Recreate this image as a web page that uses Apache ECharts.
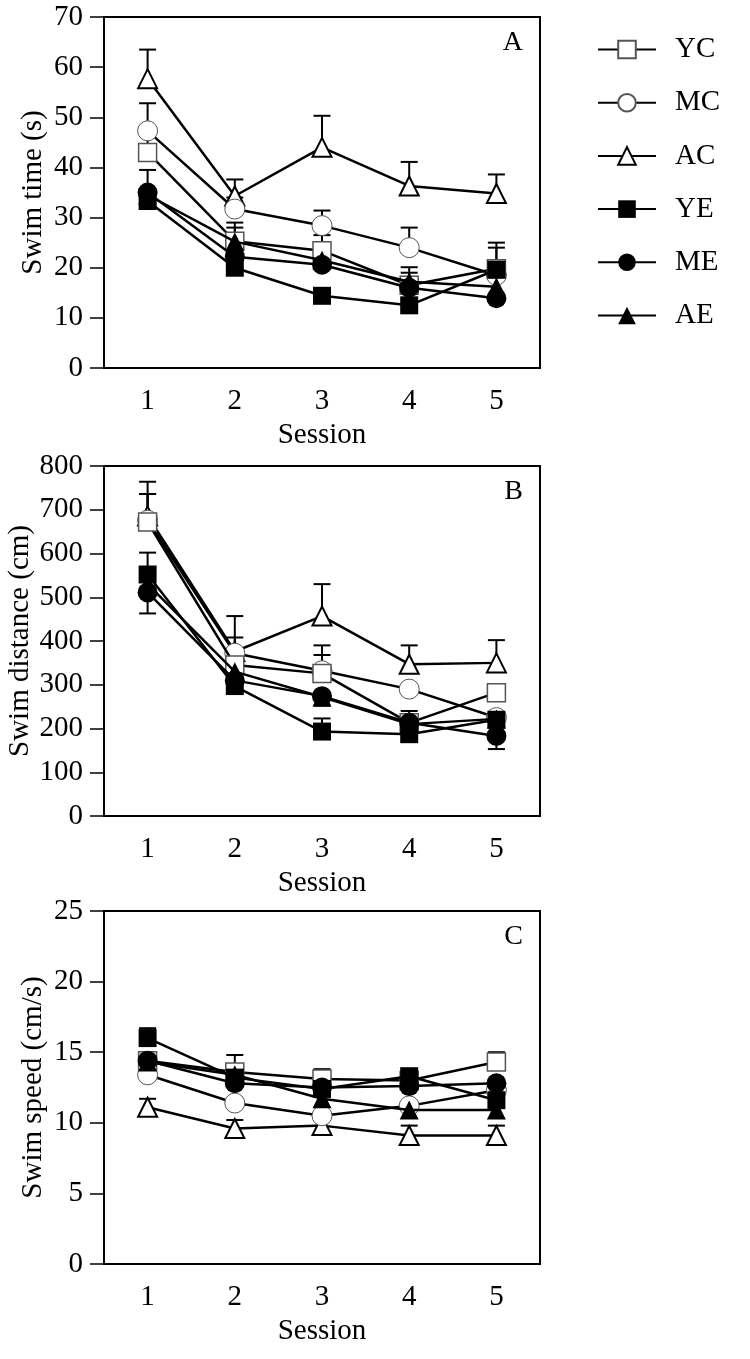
<!DOCTYPE html>
<html>
<head>
<meta charset="utf-8">
<script src="https://cdn.jsdelivr.net/npm/echarts@6/dist/echarts.min.js"></script>
<style>
html,body{margin:0;padding:0;background:#fff;}
#chart{width:750px;height:1359px;}
</style>
</head>
<body>
<div id="chart"></div>
<script>
// ---------- data ----------
const sessions = ['1', '2', '3', '4', '5'];
const groups = ['YC', 'MC', 'AC', 'YE', 'ME', 'AE'];

// Panel A: swim time (s); rows follow `groups`
const timeMean = [
  [43.0, 25.3, 23.4, 16.5, 19.8],
  [47.3, 31.7, 28.4, 24.0, 18.5],
  [57.7, 34.3, 44.0, 36.3, 34.8],
  [33.3, 20.0, 14.4, 12.5, 19.6],
  [35.0, 22.2, 20.6, 16.0, 13.9],
  [34.5, 25.2, 21.5, 17.2, 16.2]
];
const timeErrHi = [
  [46.3, 29.0, 26.5, 20.1, 25.0],
  [52.8, 34.0, 31.4, 28.0, 24.0],
  [63.5, 37.6, 50.3, 41.1, 38.6],
  [null, null, 15.8, null, 21.0],
  [39.5, null, null, null, null],
  [null, 28.0, 24.0, 19.0, null]
];
const timeErrLo = [
  [null, null, null, null, null],
  [null, null, null, null, null],
  [null, null, null, null, null],
  [null, null, null, null, null],
  [null, null, null, null, null],
  [null, null, null, null, null]
];

// Panel B: swim distance (cm)
const distMean = [
  [672, 345, 326, 213, 282],
  [676, 372, 332, 290, 225],
  [686, 376, 457, 347, 350],
  [552, 297, 193, 187, 220],
  [511, 310, 274, 213, 183],
  [530, 330, 272, 210, 222]
];
const distErrHi = [
  [736, 408, 390, null, null],
  [736, null, 368, null, null],
  [764, 457, 530, 390, 402],
  [602, null, 223, null, null],
  [null, null, null, 240, 210],
  [null, null, null, null, null]
];
const distErrLo = [
  [null, null, null, null, null],
  [null, null, null, null, null],
  [null, null, null, null, null],
  [null, null, null, null, null],
  [463, null, 252, null, 153],
  [null, null, null, null, null]
];

// Panel C: swim speed (cm/s)
const speedMean = [
  [14.4, 13.6, 13.1, 13.0, 14.3],
  [13.4, 11.4, 10.5, 11.2, 12.3],
  [11.1, 9.6, 9.8, 9.1, 9.1],
  [16.0, 13.2, 12.4, 13.3, 11.6],
  [14.4, 12.8, 12.5, 12.6, 12.8],
  [14.3, 13.4, 11.7, 10.9, 10.9]
];
const speedErrHi = [
  [null, 14.8, 13.8, null, 15.0],
  [null, null, null, null, null],
  [11.7, 10.2, 10.2, 9.8, 9.8],
  [16.7, null, null, null, null],
  [null, null, null, null, null],
  [null, null, null, null, null]
];
const speedErrLo = [
  [null, null, null, null, null],
  [null, null, null, null, null],
  [null, null, null, null, null],
  [null, null, null, null, null],
  [null, null, null, null, null],
  [null, null, null, null, null]
];

const yTicksTime = [0, 70, 10];
const yTicksDist = [0, 800, 100];
const yTicksSpeed = [0, 25, 5];

// ---------- styling ----------
const FONT = "'Liberation Serif', 'Times New Roman', serif";
const FS = 29;
const markerStyle = {
  YC: { symbol: 'rect', size: 18, item: { color: '#fff', borderColor: '#555', borderWidth: 1.5 } },
  MC: { symbol: 'circle', size: 20, item: { color: '#fff', borderColor: '#555', borderWidth: 1 } },
  AC: { symbol: 'triangle', size: 19, item: { color: '#fff', borderColor: '#000', borderWidth: 2 } },
  YE: { symbol: 'rect', size: 18, item: { color: '#000', borderColor: '#000', borderWidth: 0 } },
  ME: { symbol: 'circle', size: 20, item: { color: '#000', borderColor: '#000', borderWidth: 0 } },
  AE: { symbol: 'triangle', size: 19, item: { color: '#000', borderColor: '#000', borderWidth: 0 } }
};
const drawOrder = ['AC', 'MC', 'YC', 'AE', 'ME', 'YE'];

const panels = [
  { mean: timeMean, hi: timeErrHi, lo: timeErrLo, ticks: yTicksTime, name: 'Swim time (s)', letter: 'A', top: 17, height: 351, nameGap: 56 },
  { mean: distMean, hi: distErrHi, lo: distErrLo, ticks: yTicksDist, name: 'Swim distance (cm)', letter: 'B', top: 466, height: 350, nameGap: 69 },
  { mean: speedMean, hi: speedErrHi, lo: speedErrLo, ticks: yTicksSpeed, name: 'Swim speed (cm/s)', letter: 'C', top: 911, height: 353, nameGap: 56 }
];

const grids = [], xAxes = [], yAxes = [], series = [], titles = [];

function errRender(params, api) {
  const x = api.value(0);
  const m = api.value(1);
  const lo = api.value(2);
  const hi = api.value(3);
  const children = [];
  const cap = 8.5;
  const pm = api.coord([x, m]);
  [hi, lo].forEach(function (v) {
    if (v === null || v === undefined || isNaN(v)) return;
    const pe = api.coord([x, v]);
    children.push({ type: 'line', shape: { x1: pm[0], y1: pm[1], x2: pe[0], y2: pe[1] }, style: { stroke: '#000', lineWidth: 2 } });
    children.push({ type: 'line', shape: { x1: pe[0] - cap, y1: pe[1], x2: pe[0] + cap, y2: pe[1] }, style: { stroke: '#000', lineWidth: 2 } });
  });
  return { type: 'group', children: children };
}

panels.forEach(function (p, pi) {
  grids.push({
    left: 104, right: 210, top: p.top, height: p.height, show: true,
    borderColor: '#000', borderWidth: 2, backgroundColor: 'transparent',
    containLabel: false, outerBoundsMode: 'none'
  });
  xAxes.push({
    type: 'category', gridIndex: pi, data: sessions, boundaryGap: true,
    name: 'Session', nameLocation: 'middle', nameGap: 53, nameMoveOverlap: false,
    nameTextStyle: { fontFamily: FONT, fontSize: FS, color: '#000' },
    axisLine: { lineStyle: { color: '#000', width: 2 } },
    axisTick: { alignWithLabel: true, inside: false, length: 14, lineStyle: { color: '#000', width: 1.5 } },
    axisLabel: { fontFamily: FONT, fontSize: FS, color: '#000', margin: 19 },
    splitLine: { show: false }
  });
  yAxes.push({
    type: 'value', gridIndex: pi, min: p.ticks[0], max: p.ticks[1], interval: p.ticks[2],
    name: p.name, nameLocation: 'middle', nameGap: p.nameGap, nameRotate: 90, nameMoveOverlap: false,
    nameTextStyle: { fontFamily: FONT, fontSize: FS, color: '#000' },
    axisLine: { show: true, lineStyle: { color: '#000', width: 2 } },
    axisTick: { show: true, inside: false, length: 14, lineStyle: { color: '#000', width: 1.5 } },
    axisLabel: { fontFamily: FONT, fontSize: FS, color: '#000', margin: 21 },
    splitLine: { show: false }
  });
  titles.push({
    text: p.letter, right: 222, top: p.top + 7,
    textStyle: { fontFamily: FONT, fontSize: 28, fontWeight: 'normal', color: '#000' }
  });
  // error bars (beneath)
  drawOrder.forEach(function (g) {
    const gi = groups.indexOf(g);
    const data = sessions.map(function (s, i) {
      return [i, p.mean[gi][i], p.lo[gi][i] === null ? NaN : p.lo[gi][i], p.hi[gi][i] === null ? NaN : p.hi[gi][i]];
    });
    series.push({
      type: 'custom', name: g + '_err', xAxisIndex: pi, yAxisIndex: pi, z: 1,
      renderItem: errRender, data: data, silent: true, encode: { x: 0, y: [1, 2, 3] }
    });
  });
  // lines + markers
  drawOrder.forEach(function (g, k) {
    const gi = groups.indexOf(g);
    const ms = markerStyle[g];
    series.push({
      type: 'line', name: g, xAxisIndex: pi, yAxisIndex: pi, z: 3 + k,
      data: p.mean[gi], symbol: ms.symbol, symbolSize: ms.size, showAllSymbol: true,
      lineStyle: { color: '#000', width: 2.5 },
      itemStyle: ms.item, emphasis: { disabled: true }, animation: false
    });
  });
});

const chart = echarts.init(document.getElementById('chart'), null, { renderer: 'canvas' });
chart.setOption({
  animation: false,
  backgroundColor: '#fff',
  title: titles,
  grid: grids,
  xAxis: xAxes,
  yAxis: yAxes,
  legend: {
    data: groups, orient: 'vertical', left: 592, top: 30,
    itemWidth: 58, itemHeight: 22, itemGap: 24.2, selectedMode: false,
    textStyle: { fontFamily: FONT, fontSize: FS, color: '#000', padding: [0, 0, 0, 14] }
  },
  series: series
});
</script>
</body>
</html>
